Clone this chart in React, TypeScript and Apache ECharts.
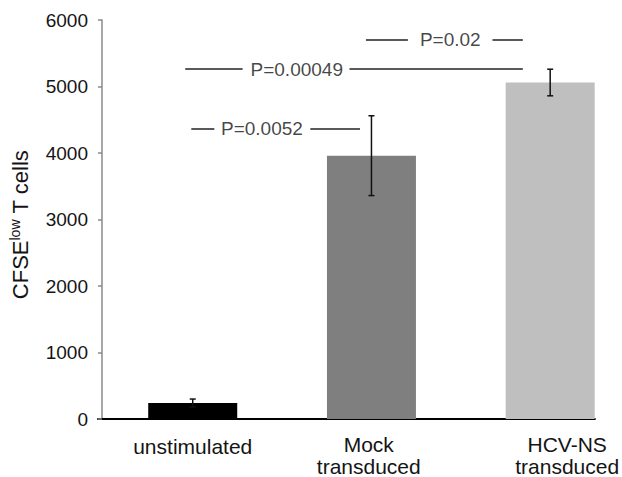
import React, { useEffect, useRef } from "react";
import * as echarts from "echarts";

const categories = ["unstimulated", "Mock\ntransduced", "HCV-NS\ntransduced"];
const categoryPositions = [0, 1, 2];
const labelPositions = [0, 0.985, 2.095];
const values = [240, 3960, 5060];
const errors = [60, 600, 200];
const barColors = ["#000000", "#7f7f7f", "#bfbfbf"];

// significance brackets
const pLabels = ["P=0.00049", "P=0.0052", "P=0.02"];
const pLevels = [5260, 4370, 5700];
const pLeftSeg = [[-0.042, 0.279], [-0.008, 0.121], [0.969, 1.204]];
const pRightSeg = [[0.877, 1.847], [0.658, 0.936], [1.677, 1.847]];
const pTextX = [0.582, 0.387, 1.441];

const FONT = "'Liberation Sans', Arial, sans-serif";

export default function App() {
  const ref = useRef<HTMLDivElement>(null);
  useEffect(() => {
    if (!ref.current) return;
    const chart = echarts.init(ref.current, null, { renderer: "svg" });
    const markLineData: any[] = [];
    pLevels.forEach((y, i) => {
      markLineData.push([{ coord: [pLeftSeg[i][0], y] }, { coord: [pLeftSeg[i][1], y] }]);
      markLineData.push([{ coord: [pRightSeg[i][0], y] }, { coord: [pRightSeg[i][1], y] }]);
    });
    chart.setOption({
      animation: false,
      backgroundColor: "#ffffff",
      textStyle: { fontFamily: FONT },
      grid: { left: 96, right: 26, top: 20, bottom: 57 },
      xAxis: {
        type: "value",
        min: -0.53,
        max: 2.25,
        splitLine: { show: false },
        axisTick: { show: false },
        axisLine: { show: true, onZero: false, lineStyle: { color: "#000", width: 2 } },
        axisLabel: {
          customValues: labelPositions,
          margin: 14,
          fontSize: 21,
          color: "#141414",
          fontFamily: FONT,
          lineHeight: 22,
          formatter: (v: number) => {
            const idx = labelPositions.findIndex((p) => Math.abs(p - v) < 1e-6);
            if (idx === 0) return "{u|" + categories[0] + "}";
            return idx >= 0 ? categories[idx] : "";
          },
          rich: {
            u: { fontSize: 21, fontFamily: FONT, color: "#141414", padding: [5, 0, 0, 0], lineHeight: 22 },
          },
        },
      },
      yAxis: {
        type: "value",
        min: 0,
        max: 6000,
        interval: 1000,
        offset: -4,
        splitLine: { show: false },
        axisLine: { show: true, onZero: false, lineStyle: { color: "#8a8a8a", width: 1.5 } },
        axisTick: { show: true, length: 4, lineStyle: { color: "#8a8a8a", width: 1.5 } },
        axisLabel: {
          fontSize: 19,
          color: "#141414",
          margin: 14,
          fontFamily: FONT,
          formatter: (v: number) => String(v),
        },
        name: "{n|CFSE}{s|low}{n| T cells}",
        nameLocation: "middle",
        nameGap: 70,
        nameTextStyle: {
          padding: [0, 10, 0, 0],
          rich: {
            n: { fontSize: 22, fontFamily: FONT, color: "#141414" },
            s: { fontSize: 14, fontFamily: FONT, color: "#141414", verticalAlign: "top", padding: [0, 0, 10, 0] },
          },
        },
      },
      series: [
        {
          type: "bar",
          barWidth: 89,
          data: categoryPositions.map((x, i) => ({
            value: [x, values[i]],
            itemStyle: { color: barColors[i] },
          })),
          markLine: {
            silent: true,
            symbol: "none",
            label: { show: false },
            lineStyle: { color: "#222", width: 1.5, type: "solid" },
            data: markLineData,
          },
        },
        {
          type: "custom",
          data: categoryPositions.map((x, i) => [x, values[i], errors[i]]),
          renderItem: (params: any, api: any) => {
            const x = api.value(0);
            const y = api.value(1);
            const e = api.value(2);
            const top = api.coord([x, y + e]);
            const bot = api.coord([x, y - e]);
            const hw = 3;
            const style = { stroke: "#111", lineWidth: 1.5 };
            return {
              type: "group",
              children: [
                { type: "line", shape: { x1: top[0], y1: top[1], x2: bot[0], y2: bot[1] }, style },
                { type: "line", shape: { x1: top[0] - hw, y1: top[1], x2: top[0] + hw, y2: top[1] }, style },
                { type: "line", shape: { x1: bot[0] - hw, y1: bot[1], x2: bot[0] + hw, y2: bot[1] }, style },
              ],
            };
          },
          z: 5,
        },
        {
          type: "scatter",
          symbolSize: 0,
          silent: true,
          data: pLabels.map((t, i) => ({ name: t, value: [pTextX[i], pLevels[i]] })),
          label: {
            show: true,
            position: "inside",
            formatter: "{b}",
            fontSize: 19,
            color: "#141414",
            fontFamily: FONT,
          },
        },
      ],
    });
    return () => chart.dispose();
  }, []);
  return (
    <div
      ref={ref}
      style={{ position: "absolute", left: 0, top: 0, width: 622, height: 477 }}
    />
  );
}
